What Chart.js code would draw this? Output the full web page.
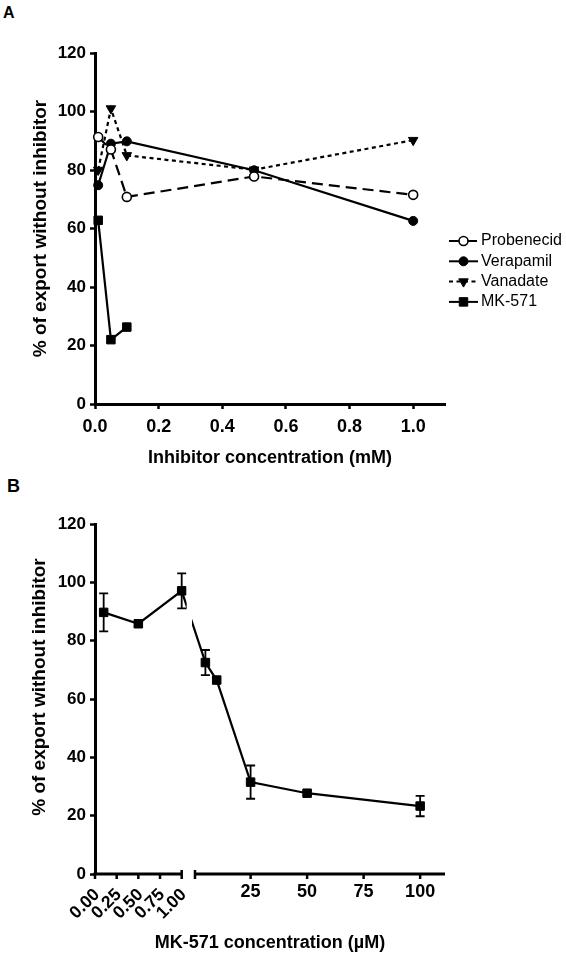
<!DOCTYPE html>
<html lang="en">
<head>
<meta charset="UTF-8" />
<title>Inhibition of export</title>
<script src="https://cdn.jsdelivr.net/npm/chart.js"></script>
<style>
  * { margin: 0; padding: 0; box-sizing: border-box; }
  body {
    background: #fff;
    width: 566px;
    height: 954px;
    position: relative;
    overflow: hidden;
    font-family: 'Liberation Sans', Arial, sans-serif;
  }
  canvas { display: block; position: absolute; left: 0; }
  #chartA { top: 0; }
  #chartB { top: 470px; }
  .panel { position: absolute; font-weight: bold; line-height: 1; color: #000; }
</style>
</head>
<body>
  <div class="panel" style="left:3px;top:5px;font-size:16px">A</div>
  <div class="panel" style="left:7px;top:477px;font-size:18px">B</div>
  <canvas id="chartA" width="566" height="470"></canvas>
  <canvas id="chartB" width="566" height="484"></canvas>

<script>
// ---- panel A : inhibitor concentration (mM) ----
const concA = [0.01, 0.05, 0.1, 0.5, 1.0];
const probenecid = [91.3, 87, 70.8, 77.8, 71.5];
const verapamil = [74.8, 89, 89.8, 79.9, 62.6];
const vanadate = [80, 101, 85, 80.1, 90.2];
const mk571A = [62.8, 22, 26.3];          // only measured at the three lowest concentrations
const ticksA = { stepSize: 0.2, max: 1.1 };

// ---- panel B : MK-571 concentration (uM), broken x axis ----
const concB = [0.1, 0.5, 1.0, 5, 10, 25, 50, 100];
const meanB = [89.7, 85.8, 97.1, 72.5, 66.5, 31.5, 27.7, 23.3];
const sdB = [6.5, 1.0, 6.0, 4.3, 0, 5.7, 0.8, 3.5];
const leftTicksB = [0, 0.25, 0.5, 0.75, 1.0];
const leftLabelsB = ['0.00', '0.25', '0.50', '0.75', '1.00'];
const rightTicksB = [25, 50, 75, 100];

// where each piece of the broken axis sits (fraction of the plot width)
const bSegments = [
  { from: 0, to: 1, start: 0, end: 0.2477 },
  { from: 0.4, to: 111, start: 0.2857, end: 1 }
];

const FONT = "'Liberation Sans', Arial, sans-serif";
const bold = size => ({ family: FONT, size, weight: 'bold' });
const Y_TITLE = '% of export without inhibitor';

class BrokenScale extends Chart.LinearScale {
  getPixelForValue(value) {
    if (value === null || value === undefined) return NaN;
    const s = value <= bSegments[0].to ? bSegments[0] : bSegments[1];
    const f = s.start + (value - s.from) / (s.to - s.from) * (s.end - s.start);
    return this.left + f * (this.right - this.left);
  }
  getValueForPixel(pixel) {
    const f = (pixel - this.left) / (this.right - this.left);
    const s = f <= bSegments[0].end ? bSegments[0] : bSegments[1];
    return s.from + (f - s.start) / (s.end - s.start) * (s.to - s.from);
  }
}
BrokenScale.id = 'broken';
BrokenScale.defaults = Chart.LinearScale.defaults;
Chart.register(BrokenScale);

function series(label, xs, ys, style) {
  return Object.assign({
    label,
    data: ys.map((y, i) => ({ x: xs[i], y })),
    borderColor: '#000',
    backgroundColor: '#000',
    borderWidth: 2.2,
    pointBorderColor: '#000',
    pointBackgroundColor: '#000',
    pointBorderWidth: 1,
    pointRadius: 4.5,
    pointHoverRadius: 4.5,
    tension: 0,
    fill: false,
    clip: false
  }, style);
}

function yScale(showTitle) {
  return {
    min: 0,
    max: 120,
    afterFit: s => { s.width = 95; },
    border: { color: '#000', width: 3 },
    grid: { drawOnChartArea: false, tickLength: 5, tickWidth: 2.5, tickColor: '#000' },
    ticks: { stepSize: 20, color: '#000', font: bold(17), padding: 4 },
    title: {
      display: showTitle,
      text: Y_TITLE,
      color: '#000',
      font: bold(19),
      padding: { top: 29, bottom: 0 }
    }
  };
}

const sideLegend = {
  id: 'sideLegend',
  afterDraw(chart) {
    const ctx = chart.ctx;
    chart.data.datasets.forEach((ds, i) => {
      const yy = 241 + i * 20.3;
      ctx.save();
      ctx.strokeStyle = '#000';
      ctx.lineWidth = 2;
      ctx.setLineDash(ds.borderDash || []);
      ctx.beginPath();
      ctx.moveTo(449, yy);
      ctx.lineTo(478, yy);
      ctx.stroke();
      ctx.setLineDash([]);
      ctx.fillStyle = ds.pointBackgroundColor;
      ctx.lineWidth = ds.pointBorderWidth;
      Chart.helpers.drawPoint(ctx, {
        pointStyle: ds.pointStyle,
        rotation: ds.pointRotation || 0,
        radius: ds.pointRadius,
        borderWidth: ds.pointBorderWidth
      }, 463.5, yy);
      ctx.fillStyle = '#000';
      ctx.font = '16px ' + FONT;
      ctx.textAlign = 'left';
      ctx.textBaseline = 'middle';
      ctx.fillText(ds.label, 481, yy);
      ctx.restore();
    });
  }
};

new Chart(document.getElementById('chartA'), {
  type: 'line',
  data: {
    datasets: [
      series('Probenecid', concA, probenecid, {
        borderDash: [11, 6], pointStyle: 'circle', pointBackgroundColor: '#fff', pointBorderWidth: 1.6
      }),
      series('Verapamil', concA, verapamil, { pointStyle: 'circle' }),
      series('Vanadate', concA, vanadate, {
        borderDash: [4, 3.5], pointStyle: 'triangle', pointRotation: 180, pointRadius: 5.5
      }),
      series('MK-571', concA, mk571A, { pointStyle: 'rect', pointRadius: 6 })
    ]
  },
  options: {
    responsive: false,
    animation: false,
    events: [],
    layout: { padding: { top: 53, right: 121, bottom: 0, left: 0 } },
    plugins: { legend: { display: false }, tooltip: { enabled: false } },
    scales: {
      x: {
        type: 'linear',
        min: 0,
        max: ticksA.max,
        afterFit: s => { s.height = 66; },
        border: { color: '#000', width: 3 },
        grid: { drawOnChartArea: false, tickLength: 5, tickWidth: 2.5, tickColor: '#000' },
        ticks: {
          stepSize: ticksA.stepSize,
          includeBounds: false,
          maxRotation: 0,
          color: '#000',
          font: bold(18),
          padding: 7,
          callback: v => Number(v).toFixed(1)
        },
        title: {
          display: true,
          text: 'Inhibitor concentration (mM)',
          color: '#000',
          font: bold(18),
          padding: { top: 0, bottom: 1 }
        }
      },
      y: yScale(true)
    }
  },
  plugins: [sideLegend]
});

// error bars, the gap in the line and the broken x axis of panel B
const brokenAxis = {
  id: 'brokenAxis',
  afterDatasetsDraw(chart) {
    const { ctx, chartArea, scales: { x, y } } = chart;
    const w = x.right - x.left;
    const gapL = x.getPixelForValue(bSegments[0].to) + 5;
    const gapR = x.left + bSegments[1].start * w - 3;
    ctx.save();
    ctx.fillStyle = '#fff';
    ctx.fillRect(gapL, chartArea.top - 2, gapR - gapL, chartArea.bottom - chartArea.top);

    ctx.strokeStyle = '#000';
    ctx.lineWidth = 1.8;
    concB.forEach((c, i) => {
      if (!sdB[i]) return;
      const px = x.getPixelForValue(c);
      const top = y.getPixelForValue(meanB[i] + sdB[i]);
      const bot = y.getPixelForValue(meanB[i] - sdB[i]);
      ctx.beginPath();
      ctx.moveTo(px, top); ctx.lineTo(px, bot);
      ctx.moveTo(px - 4.5, top); ctx.lineTo(px + 4.5, top);
      ctx.moveTo(px - 4.5, bot); ctx.lineTo(px + 4.5, bot);
      ctx.stroke();
    });
    ctx.restore();
  },
  afterDraw(chart) {
    const { ctx, chartArea, scales: { x } } = chart;
    const w = x.right - x.left;
    const ay = chartArea.bottom;
    const l0 = x.getPixelForValue(0);
    const l1 = x.getPixelForValue(bSegments[0].to);
    const r0 = x.left + bSegments[1].start * w;
    const r1 = x.right;

    ctx.save();
    ctx.strokeStyle = '#000';
    ctx.lineWidth = 3;
    ctx.beginPath();
    ctx.moveTo(l0 - 1.5, ay); ctx.lineTo(l1, ay);
    ctx.moveTo(r0, ay); ctx.lineTo(r1, ay);
    ctx.stroke();

    ctx.lineWidth = 2.5;
    ctx.beginPath();
    ctx.moveTo(l1, ay - 4); ctx.lineTo(l1, ay + 5);
    ctx.moveTo(r0, ay - 4); ctx.lineTo(r0, ay + 5);
    leftTicksB.concat(rightTicksB).forEach(v => {
      const px = x.getPixelForValue(v);
      ctx.moveTo(px, ay); ctx.lineTo(px, ay + 5);
    });
    ctx.stroke();

    ctx.fillStyle = '#000';
    ctx.font = 'bold 17.5px ' + FONT;
    leftTicksB.forEach((v, i) => {
      const px = x.getPixelForValue(v);
      ctx.save();
      ctx.translate(px + 2, ay + 18);
      ctx.rotate(-Math.PI / 4);
      ctx.textAlign = 'right';
      ctx.textBaseline = 'middle';
      ctx.fillText(leftLabelsB[i], 0, 0);
      ctx.restore();
    });
    ctx.font = 'bold 18px ' + FONT;
    ctx.textAlign = 'center';
    ctx.textBaseline = 'middle';
    rightTicksB.forEach(v => {
      ctx.fillText(String(v), x.getPixelForValue(v), ay + 18);
    });

    ctx.fillText('MK-571 concentration (\u00b5M)', (x.left + x.right) / 2, 473);

    // y title of panel B sits a little above the centre of the plot
    ctx.font = 'bold 19px ' + FONT;
    ctx.translate(40, 217);
    ctx.rotate(-Math.PI / 2);
    ctx.fillText(Y_TITLE, 0, 0);
    ctx.restore();
  }
};

new Chart(document.getElementById('chartB'), {
  type: 'line',
  data: {
    datasets: [
      series('MK-571', concB, meanB, { pointStyle: 'rect', pointRadius: 6 })
    ]
  },
  options: {
    responsive: false,
    animation: false,
    events: [],
    layout: { padding: { top: 54, right: 121, bottom: 80, left: 0 } },
    plugins: { legend: { display: false }, tooltip: { enabled: false } },
    scales: {
      x: { type: 'broken', display: false, min: 0, max: 111 },
      y: yScale(false)
    }
  },
  plugins: [brokenAxis]
});
</script>
</body>
</html>
